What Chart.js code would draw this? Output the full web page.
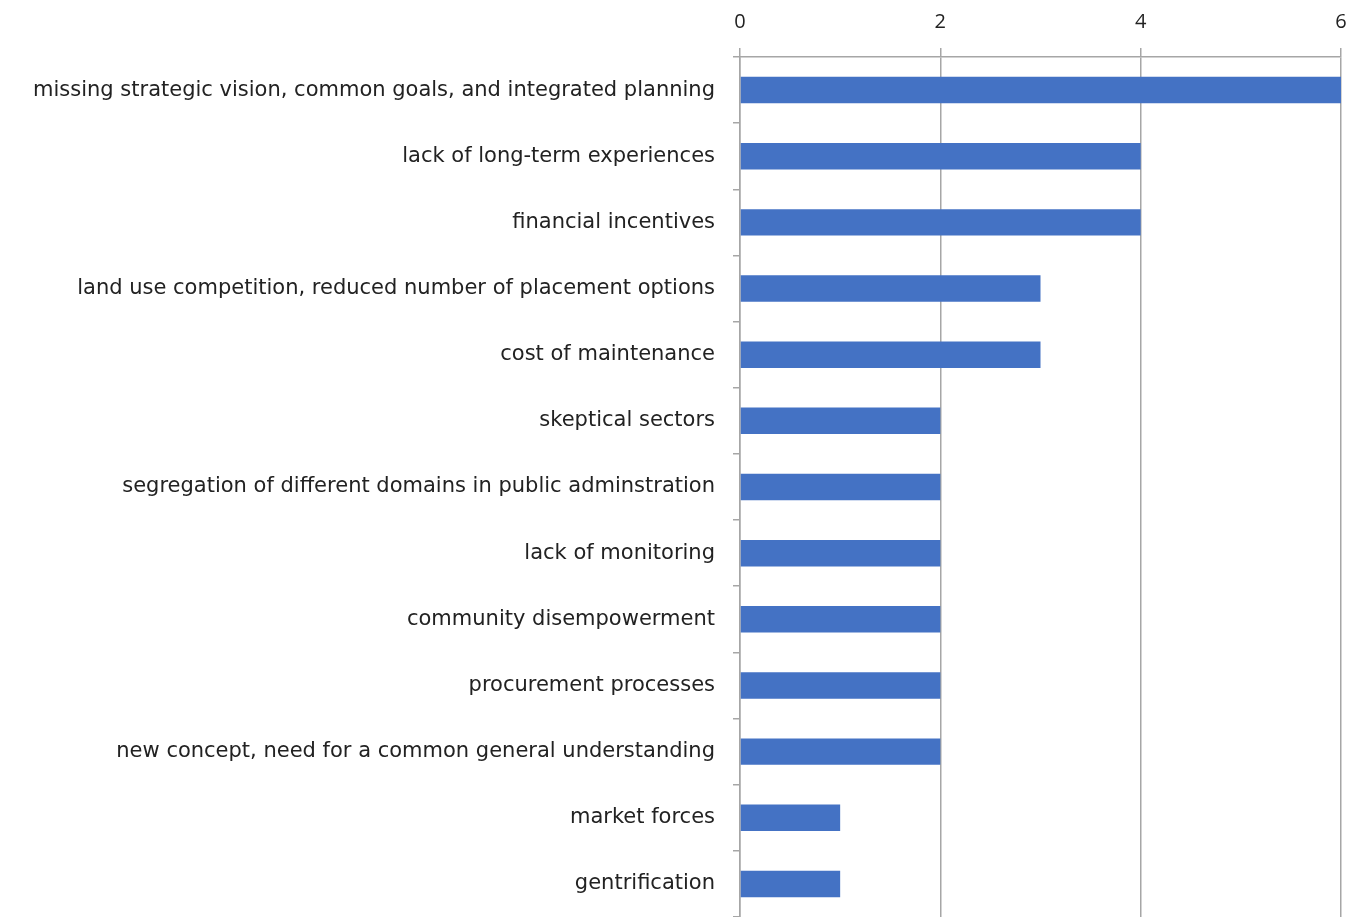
<!DOCTYPE html>
<html>
<head>
<meta charset="utf-8">
<script src="https://cdn.jsdelivr.net/npm/chart.js@4"></script>
<style>
  html, body { margin: 0; padding: 0; background: #fff; overflow: hidden; }
</style>
</head>
<body>
<canvas id="barriers" width="1360" height="917"></canvas>
<script>
// categories, top to bottom
const categories = [
    'missing strategic vision, common goals, and integrated planning',
    'lack of long-term experiences',
    'financial incentives',
    'land use competition, reduced number of placement options',
    'cost of maintenance',
    'skeptical sectors',
    'segregation of different domains in public adminstration',
    'lack of monitoring',
    'community disempowerment',
    'procurement processes',
    'new concept, need for a common general understanding',
    'market forces',
    'gentrification'
];
const counts = [6, 4, 4, 3, 3, 2, 2, 2, 2, 2, 2, 1, 1];
const xTicks = [0, 2, 4, 6];

Chart.defaults.font.family = '"DejaVu Sans", "Open Sans", Arial, sans-serif';
Chart.defaults.color = '#222';

const ctx = document.getElementById('barriers').getContext('2d');
new Chart(ctx, {
    type: 'bar',
    data: {
        labels: categories,
        datasets: [{
            data: counts,
            backgroundColor: '#4472C4',
            categoryPercentage: 1,
            barPercentage: 0.4
        }]
    },
    options: {
        indexAxis: 'y',
        responsive: false,
        animation: false,
        layout: { padding: { top: 0, right: 19, bottom: 0, left: 0 } },
        plugins: {
            legend: { display: false },
            tooltip: { enabled: false }
        },
        scales: {
            x: {
                position: 'top',
                min: 0,
                max: 6,
                afterBuildTicks: function (scale) {
                    scale.ticks = xTicks.map(v => ({ value: v }));
                },
                afterFit: function (scale) {
                    scale.height = 57;
                    scale.paddingLeft = 0;
                    scale.paddingRight = 0;
                },
                ticks: { font: { family: '"Open Sans", Arial, sans-serif', size: 20 }, padding: 14, color: '#222' },
                grid: { color: '#a6a6a6', lineWidth: 1.5, tickLength: 9 },
                border: { color: '#a6a6a6', width: 1.5 }
            },
            y: {
                afterFit: function (scale) {
                    scale.width = 740;
                    scale.paddingTop = 0;
                    scale.paddingBottom = 0;
                },
                ticks: { font: { size: 21 }, padding: 18, color: '#222', autoSkip: false },
                grid: { display: true, drawOnChartArea: false, offset: true, tickLength: 7, color: '#a6a6a6', lineWidth: 1.5 },
                border: { color: '#a6a6a6', width: 1.5 }
            }
        }
    }
});
</script>
</body>
</html>
